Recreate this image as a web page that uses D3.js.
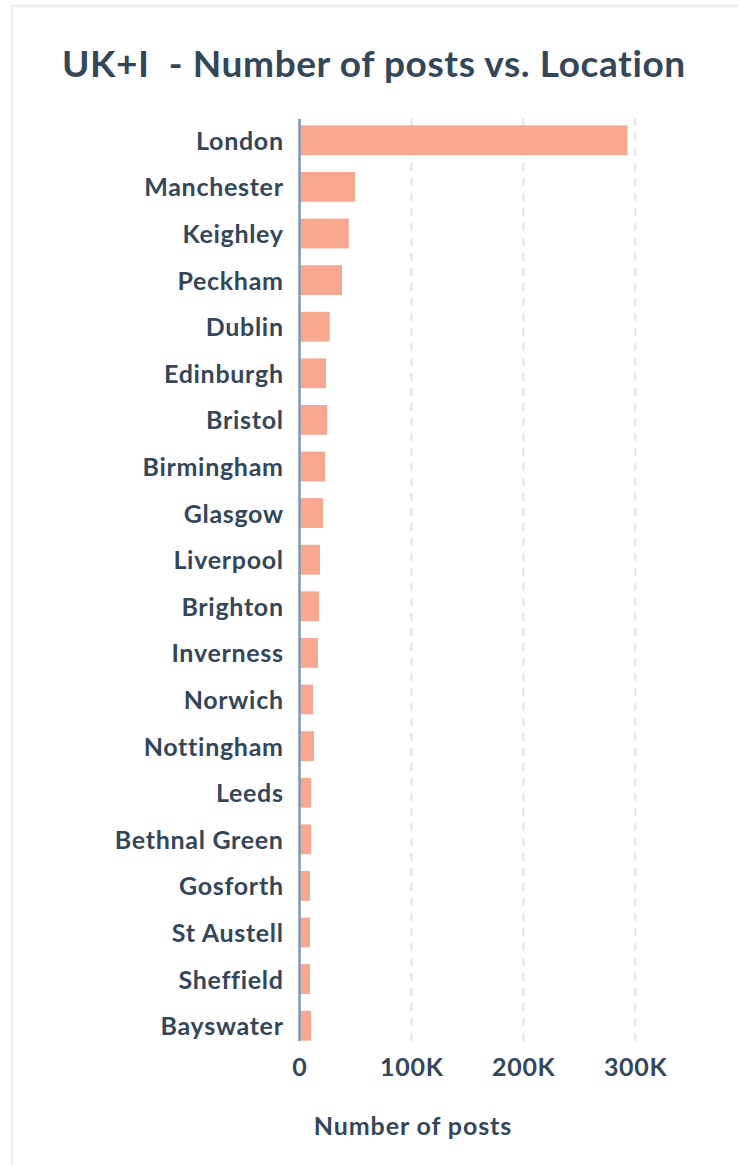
<!DOCTYPE html>
<html>
<head>
<meta charset="utf-8">
<script src="https://cdn.jsdelivr.net/npm/d3@7/dist/d3.min.js"></script>
<style>
  html, body { margin: 0; padding: 0; background: #ffffff; }
  svg { display: block; }
  text { font-family: Lato, "Open Sans", sans-serif; fill: #33475b; white-space: pre; }
</style>
</head>
<body>
<svg id="chart" width="738" height="1165"></svg>
<script>
// Posts per location (UK & Ireland)
const locations = ["London", "Manchester", "Keighley", "Peckham", "Dublin", "Edinburgh",
  "Bristol", "Birmingham", "Glasgow", "Liverpool", "Brighton", "Inverness", "Norwich",
  "Nottingham", "Leeds", "Bethnal Green", "Gosforth", "St Austell", "Sheffield", "Bayswater"];
const posts = [293000, 49600, 44000, 38000, 27000, 23700,
  24600, 22800, 21000, 18300, 17400, 16500, 12000,
  13000, 10300, 10300, 9400, 9400, 9400, 10300];
const xTicks = [0, 100000, 200000, 300000];
const tickLabels = ["0", "100K", "200K", "300K"];

const titleText = "UK+I  - Number of posts vs. Location";
const xAxisTitle = "Number of posts";

const svg = d3.select("#chart");

// card frame
svg.append("path")
  .attr("d", "M12,1165 V6 H738")
  .attr("fill", "none")
  .attr("stroke", "#eeeeee")
  .attr("stroke-width", 2.5);

svg.append("text")
  .attr("x", 62)
  .attr("y", 77)
  .attr("font-size", 37)
  .attr("font-weight", 700)
  .attr("letter-spacing", 0.6)
  .text(titleText);

const x = d3.scaleLinear().domain([0, 300000]).range([299.5, 635.3]);
const y = d3.scaleBand().domain(locations).range([117, 1049])
  .paddingInner(0.36).paddingOuter(0.18);

// dashed vertical gridlines
svg.append("g").selectAll("line")
  .data(xTicks.filter(d => d > 0))
  .join("line")
  .attr("x1", d => x(d)).attr("x2", d => x(d))
  .attr("y1", 118).attr("y2", 1042)
  .attr("stroke", "#dfe3eb")
  .attr("stroke-width", 2)
  .attr("stroke-dasharray", "8,7");

// bars
svg.append("g").selectAll("rect")
  .data(locations.map((l, i) => ({ l, v: posts[i] })))
  .join("rect")
  .attr("x", x(0))
  .attr("y", d => y(d.l))
  .attr("width", d => x(d.v) - x(0))
  .attr("height", y.bandwidth())
  .attr("fill", "#f8a790");

// baseline
svg.append("line")
  .attr("x1", x(0)).attr("x2", x(0))
  .attr("y1", 119).attr("y2", 1041)
  .attr("stroke", "#7c98b6")
  .attr("stroke-width", 2.5);

// category labels
svg.append("g").selectAll("text")
  .data(locations)
  .join("text")
  .attr("x", 283.7)
  .attr("y", d => y(d) + y.bandwidth() / 2 + 9.5)
  .attr("text-anchor", "end")
  .attr("font-size", 25)
  .attr("font-weight", 700)
  .attr("letter-spacing", 0.7)
  .text(d => d);

// x tick labels
svg.append("g").selectAll("text")
  .data(xTicks)
  .join("text")
  .attr("x", d => x(d) + 0.35)
  .attr("y", 1076)
  .attr("text-anchor", "middle")
  .attr("font-size", 25)
  .attr("font-weight", 700)
  .attr("letter-spacing", 0.7)
  .text((d, i) => tickLabels[i]);

svg.append("text")
  .attr("x", 413)
  .attr("y", 1135)
  .attr("text-anchor", "middle")
  .attr("font-size", 25)
  .attr("font-weight", 700)
  .attr("letter-spacing", 0.9)
  .text(xAxisTitle);
</script>
</body>
</html>
